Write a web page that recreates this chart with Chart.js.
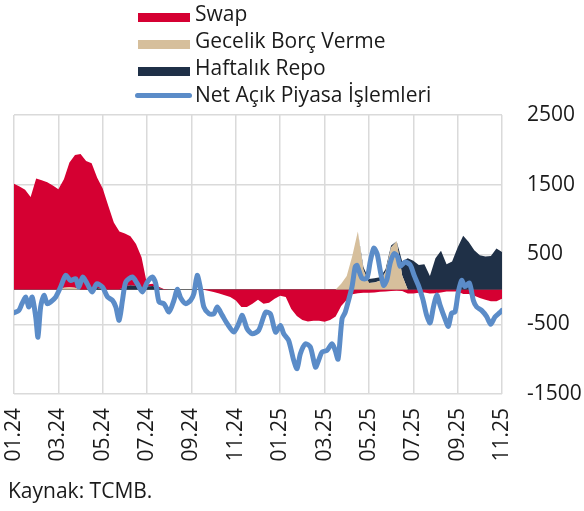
<!DOCTYPE html>
<html lang="tr">
<head>
<meta charset="utf-8">
<script src="https://cdn.jsdelivr.net/npm/chart.js@4.4.1/dist/chart.umd.min.js"></script>
<style>
  body { margin: 0; background: #fff; font-family: 'Open Sans', sans-serif; color: #1a1a1a; }
  #wrap { position: relative; width: 584px; height: 511px; overflow: hidden; }
  #chart { position: absolute; left: 0; top: 0; }
  #legend { position: absolute; left: 135px; top: 0; font-size: 21px; line-height: 27px; }
  #legend .row { position: relative; height: 27px; padding-left: 60px; white-space: nowrap; }
  #legend .key { position: absolute; left: 3px; top: 13px; width: 52px; height: 9px; }
  #legend .line { position: absolute; left: 0; top: 12px; width: 57px; height: 5px; border-radius: 3px; }
  #source { position: absolute; left: 8px; top: 477px; font-size: 21px; line-height: 27px; }
</style>
</head>
<body>
<div id="wrap">
  <canvas id="chart" width="584" height="511"></canvas>
  <div id="legend"></div>
  <div id="source">Kaynak: TCMB.</div>
</div>
<script>
// x axis labels, every 2 months
const tickLabels = ['01.24', '03.24', '05.24', '07.24', '09.24', '11.24',
  '01.25', '03.25', '05.25', '07.25', '09.25', '11.25'];
const yTicks = [2500, 1500, 500, 0, -500, -1500];

// stacked areas, 4 readings per month starting 01.24
const swap = [
  1515, 1475, 1430, 1324, 1590, 1563, 1535, 1490, 1435, 1555,
  1790, 1900, 1940, 1840, 1780, 1580, 1448, 1200, 960, 830,
  760, 700, 600, 430, 30, 30, 20, 5, 0, 0,
  0, 0, 0, 0, 0, -20, -38, -60, -85, -110,
  -160, -253, -253, -205, -150, -205, -190, -135, -90, -110,
  -280, -380, -440, -460, -450, -450, -465, -440, -390, -240,
  -150, -70, -55, -48, -48, -45, -35, -29, -25, -20,
  -25, -60, -60, -48, -45, -60, -55, -45, -30, -30,
  -30, -65, -67, -90, -125, -150, -170, -170, -134
];
const gecelik = [
  0, 0, 0, 0, 0, 0, 0, 0, 0, 25,
  30, 25, 0, 0, 0, 0, 0, 0, 0, 0,
  0, 0, 0, 0, 0, 0, 0, 0, 0, 0,
  0, 0, 0, 0, 0, 0, 0, 0, 0, 0,
  0, 0, 0, 0, 0, 0, 0, 0, 0, 0,
  0, 0, 0, 0, 0, 0, 0, 0, 0, 80,
  190, 480, 830, 280, 90, 100, 125, 250, 600, 690,
  200, 0, 0, 0, 0, 0, 0, 0, 0, 0,
  0, 0, 0, 0, 0, 0, 0, 0, 0
];
const haftalik = [
  0, 0, 0, 0, 0, 0, 0, 0, 0, 0,
  0, 0, 0, 0, 30, 20, 0, 0, 0, 0,
  40, 60, 50, 30, 40, 50, 20, 0, 0, 0,
  0, 0, 0, 0, 0, 0, 0, 0, 0, 0,
  0, 0, 0, 0, 0, 0, 0, 0, 0, 0,
  0, 0, 0, 0, 0, 0, 0, 0, 0, 0,
  0, 0, 0, 40, 60, 60, 50, 40, 30, 0,
  200, 445, 410, 350, 360, 190, 445, 555, 360, 400,
  600, 770, 680, 560, 490, 470, 480, 585, 535
];

// net line: position in months since 01.24, and value
const netMonths = [
  0, 0.22, 0.36, 0.53, 0.67, 0.82, 0.98, 1.08, 1.20, 1.35,
  1.50, 1.65, 1.88, 2.10, 2.33, 2.55, 2.78, 2.92, 3.10, 3.30,
  3.52, 3.73, 3.99, 4.22, 4.44, 4.59, 4.74, 4.89, 5.04, 5.34,
  5.56, 5.79, 6.01, 6.24, 6.39, 6.54, 6.76, 6.99, 7.21, 7.36,
  7.51, 7.74, 7.96, 8.11, 8.26, 8.41, 8.56, 8.79, 9.01, 9.16,
  9.39, 9.61, 9.91, 10.13, 10.29, 10.51, 10.74, 11.03, 11.34, 11.56,
  11.79, 12.01, 12.16, 12.38, 12.61, 12.76, 12.91, 13.14, 13.36, 13.59,
  13.73, 13.89, 14.11, 14.34, 14.48, 14.61, 14.79, 14.93, 15.08, 15.24,
  15.38, 15.46, 15.69, 15.91, 16.06, 16.22, 16.37, 16.51, 16.66, 16.81,
  16.96, 17.14, 17.29, 17.41, 17.63, 17.86, 18.04, 18.23, 18.43, 18.61,
  18.76, 18.91, 19.06, 19.21, 19.43, 19.58, 19.73, 19.88, 20.03, 20.18,
  20.33, 20.53, 20.71, 20.86, 21.08, 21.31, 21.49, 21.68, 21.91, 22.0
];
const netValues = [
  -335, -301, -205, -110, -253, -110, -397, -684, -253, -86,
  -205, -180, -110, 33, 201, 129, 153, 33, 177, 81,
  -38, 81, 33, -110, -158, -253, -444, -158, 105, 177,
  81, -38, 105, 177, 81, -181, -205, -325, -158, 0,
  -120, -205, -158, -62, 201, 10, -253, -349, -349, -253,
  -373, -492, -612, -492, -373, -564, -636, -588, -330, -350,
  -612, -516, -636, -731, -1018, -1137, -922, -779, -827, -1114,
  -1018, -898, -874, -779, -874, -1000, -420, -330, -160, 40,
  320, 344, 160, 160, 400, 590, 510, 272, 57, 140,
  380, 512, 470, 330, 392, 350, 200, 57, -140, -380,
  -480, -250, -80, -229, -421, -530, -340, -325, -38, 129,
  40, 90, -158, -253, -301, -390, -500, -397, -330, -301
];

const RED = '#d50032';
const TAN = '#d6bf9c';
const NAVY = '#1f3047';
const BLUE = '#5b8cc8';
const GRID = '#dadada';

// html legend, one item per row
const legendItems = [
  { label: 'Swap', color: RED, line: false },
  { label: 'Gecelik Borç Verme', color: TAN, line: false },
  { label: 'Haftalık Repo', color: NAVY, line: false },
  { label: 'Net Açık Piyasa İşlemleri', color: BLUE, line: true }
];
const legendEl = document.getElementById('legend');
for (const item of legendItems) {
  const row = document.createElement('div');
  row.className = 'row';
  const key = document.createElement('span');
  key.className = item.line ? 'line' : 'key';
  key.style.background = item.color;
  row.appendChild(key);
  row.appendChild(document.createTextNode(item.label));
  legendEl.appendChild(row);
}

Chart.defaults.font.family = "'Open Sans', sans-serif";
Chart.defaults.font.size = 21;
Chart.defaults.color = '#1a1a1a';

const toPoints = (arr) => arr.map((v, i) => ({ x: i / 4, y: v }));
const areaStyle = { borderWidth: 0, pointRadius: 0, tension: 0, order: 1 };

const ctx = document.getElementById('chart').getContext('2d');
const myChart = new Chart(ctx, {
  type: 'line',
  data: {
    datasets: [
      { ...areaStyle, label: 'Gecelik Borç Verme', data: toPoints(gecelik), stack: 'pos', fill: 'origin', backgroundColor: TAN },
      { ...areaStyle, label: 'Haftalık Repo', data: toPoints(haftalik), stack: 'pos', fill: '-1', backgroundColor: NAVY },
      // swap split by sign so the positive part sits on the stack and the negative part hangs below zero
      { ...areaStyle, label: 'Swap', data: toPoints(swap.map(v => Math.max(v, 0))), stack: 'pos', fill: '-1', backgroundColor: RED },
      { ...areaStyle, label: 'Swap', data: toPoints(swap.map(v => Math.min(v, 0))), stack: 'neg', fill: 'origin', backgroundColor: RED },
      {
        label: 'Net Açık Piyasa İşlemleri',
        data: netMonths.map((m, i) => ({ x: m, y: netValues[i] })),
        stack: 'net',
        fill: false,
        borderColor: BLUE,
        borderWidth: 5,
        borderCapStyle: 'round',
        borderJoinStyle: 'round',
        pointRadius: 0,
        tension: 0.25,
        order: 0
      }
    ]
  },
  options: {
    responsive: false,
    animation: false,
    layout: { padding: { top: 115, left: 13, right: 0, bottom: 0 } },
    plugins: {
      legend: { display: false },
      tooltip: { enabled: false }
    },
    scales: {
      x: {
        type: 'linear',
        min: 0,
        max: 22,
        ticks: {
          stepSize: 2,
          autoSkip: false,
          minRotation: 90,
          maxRotation: 90,
          padding: 14,
          callback: (v) => tickLabels[Math.round(v / 2)]
        },
        grid: { color: GRID, lineWidth: 1.5, drawTicks: false },
        border: { display: false },
        afterFit: (axis) => { axis.height = 117; }
      },
      y: {
        position: 'right',
        stacked: true,
        min: -1500,
        max: 2500,
        afterBuildTicks: (axis) => { axis.ticks = yTicks.map(v => ({ value: v })); },
        ticks: {
          padding: 25,
          callback: (v) => (v === 0 ? '' : String(v))
        },
        grid: {
          color: (c) => (c.tick && c.tick.value === 0 ? '#6b6b6b' : GRID),
          lineWidth: (c) => (c.tick && c.tick.value === 0 ? 1 : 1.5),
          drawTicks: false
        },
        border: { display: false },
        afterFit: (axis) => { axis.width = 82; }
      }
    }
  }
});
</script>
</body>
</html>
